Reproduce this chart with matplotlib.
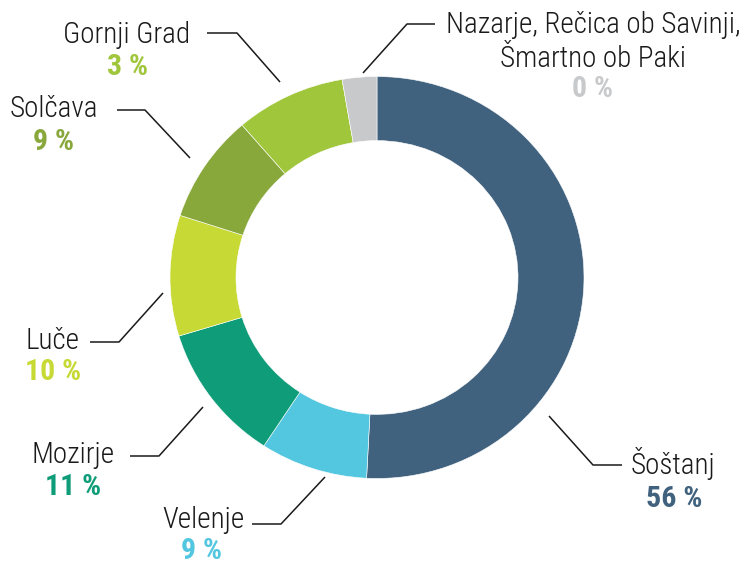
import matplotlib
matplotlib.use("Agg")
import matplotlib.pyplot as plt

W, H = 746, 561

# slice sizes (clockwise from 12 o'clock)
municipalities = ["Šoštanj", "Velenje", "Mozirje", "Luče", "Solčava",
                  "Gornji Grad", "Nazarje, Rečica ob Savinji,\nŠmartno ob Paki"]
slice_sizes = [50.8, 8.4, 11.1, 9.7, 8.7, 8.6, 2.7]
pct_labels = ["56 %", "9 %", "11 %", "10 %", "9 %", "3 %", "0 %"]
colors = ["#41627e", "#53c6e0", "#0f9c78", "#c7d934", "#88a83c",
          "#a0c63c", "#c8c9cb"]

# layout in image pixels (x, y from top-left); ring is slightly squashed
k = 1.03
center = (377, 277.5)
radius = 207
ring = 66
label_pos = [(673, 474), (203, 528), (73, 463), (53, 349), (54, 117),
             (127, 43), (593, 67)]
pct_pos = [(674, 507), (202, 559), (73, 495), (53, 380), (54, 150),
           (128, 75), (593, 97)]
leaders = [[(622, 465), (593, 465), (549, 416)],
           [(252, 524), (281, 524), (325, 477)],
           [(130, 456), (159, 456), (203, 407)],
           [(90, 342), (119, 342), (163, 293)],
           [(117, 110), (145, 110), (190, 158)],
           [(207, 33), (237, 33), (280, 82)],
           [(435, 24), (407, 24), (363, 73)]]


def ty(y):
    return (H - y) * k


fig = plt.figure(figsize=(W / 100, H / 100), dpi=100)
ax = fig.add_axes([0, 0, 1, 1])

ax.pie(slice_sizes, colors=colors, startangle=90, counterclock=False,
       center=(center[0], ty(center[1])), radius=radius, frame=True,
       wedgeprops=dict(width=ring, edgecolor="white", linewidth=0.4))
ax.set_aspect("auto")
ax.set_xlim(0, W)
ax.set_ylim(0, H * k)
ax.axis("off")

font = dict(family="Roboto Condensed", va="baseline", ha="center")
for name, pct, pc, lp, pp, pts in zip(municipalities, pct_labels, colors,
                                      label_pos, pct_pos, leaders):
    lines = name.split("\n")
    for i, line in enumerate(lines):
        y = lp[1] - 34 * (len(lines) - 1 - i)
        ax.text(lp[0], ty(y), line, weight="light", fontsize=21,
                color="#1a1a1a", **font)
    ax.text(pp[0], ty(pp[1]), pct, weight="bold", fontsize=21.5, color=pc,
            **font)
    ax.plot([p[0] for p in pts], [ty(p[1]) for p in pts], color="#1a1a1a",
            lw=1.1, solid_capstyle="butt")

fig.savefig("out.png", dpi=100)
